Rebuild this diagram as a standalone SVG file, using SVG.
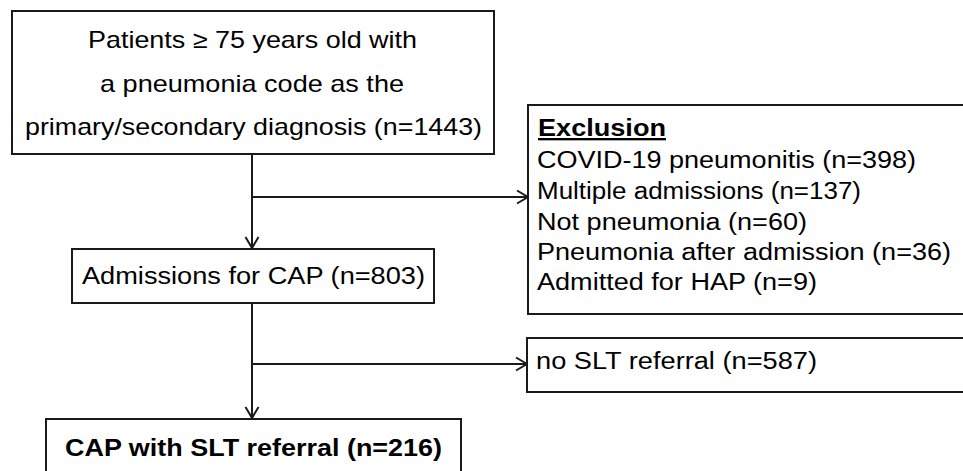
<svg xmlns="http://www.w3.org/2000/svg" width="963" height="471" viewBox="0 0 963 471">
<style>
.box{fill:#fff;stroke:#1a1a1a;stroke-width:2}
.t{font-family:"Liberation Sans",Arial,sans-serif;font-size:23.5px;fill:#000}
.top{font-size:24px}
.b{font-weight:bold}
.c{fill:none;stroke:#1a1a1a;stroke-width:2}
</style>
<defs>
<marker id="ah" markerUnits="userSpaceOnUse" markerWidth="16" markerHeight="16" viewBox="0 0 16 16" refX="14" refY="8" orient="auto">
<path d="M3,1.5 L14,8 L3,14.5" fill="none" stroke="#1a1a1a" stroke-width="2"/>
</marker>
</defs>
<rect width="963" height="471" fill="#fff"/>
<g id="connectors">
<line class="c" x1="252" y1="155" x2="252" y2="248" marker-end="url(#ah)"/>
<line class="c" x1="252" y1="197" x2="528" y2="197" marker-end="url(#ah)"/>
<line class="c" x1="252" y1="303" x2="252" y2="418" marker-end="url(#ah)"/>
<line class="c" x1="252" y1="364" x2="527" y2="364" marker-end="url(#ah)"/>
</g>
<g id="patients">
<rect class="box" x="12" y="11" width="482" height="143"/>
<text class="t top" x="88" y="48" textLength="329" lengthAdjust="spacingAndGlyphs">Patients ≥ 75 years old with</text>
<text class="t top" x="100" y="91.5" textLength="304" lengthAdjust="spacingAndGlyphs">a pneumonia code as the</text>
<text class="t top" x="25" y="135" textLength="457" lengthAdjust="spacingAndGlyphs">primary/secondary diagnosis (n=1443)</text>
</g>
<g id="admissions">
<rect class="box" x="72" y="249" width="362" height="54"/>
<text class="t" x="82" y="284" textLength="343" lengthAdjust="spacingAndGlyphs">Admissions for CAP (n=803)</text>
</g>
<g id="exclusion">
<rect class="box" x="528" y="105" width="445" height="209"/>
<text class="t b" x="538" y="136" textLength="128" lengthAdjust="spacingAndGlyphs" text-decoration="underline">Exclusion</text>
<text class="t" x="537" y="167.5" textLength="379" lengthAdjust="spacingAndGlyphs">COVID-19 pneumonitis (n=398)</text>
<text class="t" x="537" y="199" textLength="324" lengthAdjust="spacingAndGlyphs">Multiple admissions (n=137)</text>
<text class="t" x="537" y="229.5" textLength="270" lengthAdjust="spacingAndGlyphs">Not pneumonia (n=60)</text>
<text class="t" x="537" y="260" textLength="414" lengthAdjust="spacingAndGlyphs">Pneumonia after admission (n=36)</text>
<text class="t" x="537" y="290" textLength="280" lengthAdjust="spacingAndGlyphs">Admitted for HAP (n=9)</text>
</g>
<g id="noslt">
<rect class="box" x="527" y="338" width="446" height="54"/>
<text class="t" x="536" y="368.5" textLength="281" lengthAdjust="spacingAndGlyphs">no SLT referral (n=587)</text>
</g>
<g id="slt">
<rect class="box" x="46" y="419" width="415" height="70"/>
<text class="t b" x="65" y="456" textLength="377" lengthAdjust="spacingAndGlyphs">CAP with SLT referral (n=216)</text>
</g>
</svg>
